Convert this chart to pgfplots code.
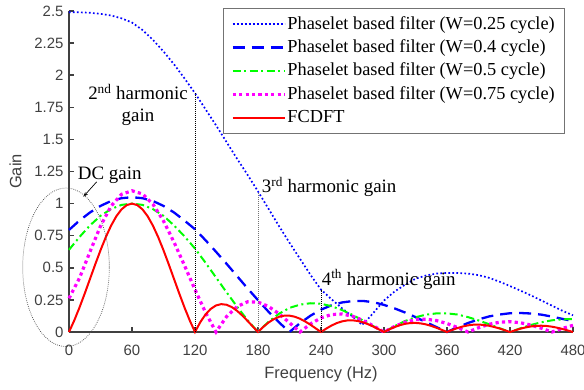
\documentclass[border=0pt]{standalone}
\usepackage{fontspec}
\setmainfont{Liberation Serif}
\newfontfamily\arialf{Liberation Sans}
\usepackage{pgfplots}
\pgfplotsset{compat=1.18}
\usetikzlibrary{arrows.meta}
\definecolor{axgray}{RGB}{64,64,64}
\definecolor{mblue}{RGB}{0,0,255}
\definecolor{mgreen}{RGB}{0,255,0}
\definecolor{mmag}{RGB}{255,0,255}
\definecolor{mred}{RGB}{255,0,0}
\begin{document}
\begin{tikzpicture}
\begin{axis}[
  scale only axis, width=504bp, height=321bp,
  xmin=0, xmax=480, ymin=0, ymax=2.5,
  axis x line*=bottom, axis y line*=left,
  axis line style={axgray, line width=1.5bp},
  xtick={0,60,120,180,240,300,360,420,480},
  xticklabels={0,60,120,180,240,300,360,420,480},
  ytick={0,0.25,0.5,0.75,1,1.25,1.5,1.75,2,2.25,2.5},
  yticklabels={0,0.25,0.5,0.75,1,1.25,1.5,1.75,2,2.25,2.5},
  tick align=inside, major tick length=5bp,
  every tick/.style={axgray, line width=1.5bp},
  tick label style={font=\arialf\fontsize{15}{15}\selectfont, text=axgray},
  xticklabel style={anchor=base, yshift=-23.7bp},
  yticklabel style={anchor=east, xshift=-2bp},
  xlabel={Frequency (Hz)}, ylabel={Gain},
  label style={font=\arialf\fontsize{16.5}{16.5}\selectfont, text=axgray},
  xlabel style={at={(axis description cs:0.5,-0.1443)}, anchor=base},
  ylabel style={at={(axis description cs:-0.106,0.5)}, anchor=center},
  clip=false,
  legend style={at={(axis description cs:0.3056,1.0093)}, anchor=north west,
    draw=black!55, fill=white, font=\fontsize{18.4}{18.4}\selectfont,
    inner xsep=8bp, inner ysep=6bp, row sep=3.1bp,
    nodes={inner sep=1bp, text height=14bp, text depth=4.2bp},
    cells={anchor=west}},
  legend image code/.code={\draw[#1] (0bp,0bp) -- (47bp,0bp); \path (0bp,0bp) -- (52bp,0bp);},
]
% W = 0.25 cycle
\addplot[mblue, line width=1.7bp, dash pattern=on 1.7bp off 2.3bp] coordinates {
(0,2.490) (10,2.490) (20,2.486) (30,2.478) (40,2.465) (50,2.443) (60,2.410) (70,2.352)
(80,2.275) (90,2.185) (100,2.085) (110,1.975) (120,1.860) (130,1.735) (140,1.610)
(150,1.480) (160,1.350) (170,1.225) (180,1.095) (190,0.960) (200,0.825) (210,0.695)
(220,0.570) (230,0.445) (240,0.330) (250,0.255) (260,0.185) (270,0.120) (275,0.088)
(279,0.055) (284,0.095) (290,0.150) (300,0.245) (310,0.315) (320,0.368) (330,0.415)
(340,0.440) (350,0.455) (360,0.460) (370,0.460) (380,0.455) (390,0.443) (400,0.422)
(410,0.392) (420,0.358) (430,0.322) (440,0.285) (450,0.245) (460,0.205) (470,0.165) (480,0.130)};
\addlegendentry{Phaselet based filter (W=0.25 cycle)}
% W = 0.4 cycle
\addplot[mblue, line width=2.3bp, dash pattern=on 12bp off 7bp] coordinates {
(0,0.795) (10,0.868) (20,0.931) (30,0.982) (40,1.020) (50,1.042) (60,1.050) (70,1.042)
(80,1.020) (90,0.982) (100,0.931) (110,0.868) (120,0.800) (130,0.715) (140,0.625)
(150,0.532) (160,0.436) (170,0.340) (180,0.248) (190,0.158) (200,0.075) (210,0)
(220,0.069) (230,0.127) (240,0.174) (250,0.208) (260,0.230) (270,0.241) (280,0.242)
(290,0.232) (300,0.211) (310,0.184) (320,0.152) (330,0.116) (340,0.077) (350,0.038)
(360,0) (370,0.037) (380,0.070) (390,0.098) (400,0.121) (410,0.136) (420,0.146)
(430,0.148) (440,0.144) (450,0.135) (460,0.120) (470,0.102) (480,0.085)};
\addlegendentry{Phaselet based filter (W=0.4 cycle)}
% W = 0.5 cycle
\addplot[mgreen, line width=2bp, dash pattern=on 8bp off 3.5bp on 2bp off 3.5bp] coordinates {
(0,0.640) (10,0.740) (20,0.830) (30,0.905) (40,0.957) (50,0.990) (60,1.0) (70,0.990)
(80,0.957) (90,0.905) (100,0.830) (110,0.745) (120,0.650) (130,0.540) (140,0.425)
(150,0.310) (160,0.198) (170,0.093) (180,0) (190,0.080) (200,0.142) (210,0.188)
(220,0.213) (230,0.224) (240,0.220) (250,0.201) (260,0.171) (270,0.133) (280,0.090)
(290,0.045) (300,0) (310,0.045) (320,0.085) (330,0.115) (340,0.135) (350,0.145)
(360,0.145) (370,0.136) (380,0.116) (390,0.090) (400,0.061) (410,0.030) (420,0)
(430,0.029) (440,0.055) (450,0.076) (460,0.091) (470,0.099) (480,0.100)};
\addlegendentry{Phaselet based filter (W=0.5 cycle)}
% W = 0.75 cycle
\addplot[mmag, line width=3.2bp, dash pattern=on 3.2bp off 3.2bp] coordinates {
(0,0.262) (10,0.420) (20,0.625) (30,0.825) (40,0.980) (50,1.072) (60,1.100) (70,1.075)
(80,0.995) (90,0.865) (100,0.700) (110,0.518) (120,0.330) (130,0.153) (140,0)
(150,0.119) (160,0.198) (170,0.235) (180,0.233) (190,0.199) (200,0.142) (210,0.072)
(220,0) (230,0.063) (240,0.110) (250,0.136) (260,0.140) (270,0.123) (280,0.090)
(290,0.047) (300,0) (310,0.043) (320,0.076) (330,0.096) (340,0.100) (350,0.089)
(360,0.066) (370,0.035) (380,0) (390,0.033) (400,0.060) (410,0.076) (420,0.080)
(430,0.072) (440,0.054) (450,0.029) (460,0) (470,0.028) (480,0.052)};
\addlegendentry{Phaselet based filter (W=0.75 cycle)}
% FCDFT
\addplot[mred, line width=2bp] coordinates {
(0,0) (5,0.0899) (10,0.1910) (15,0.3001) (20,0.4135) (25,0.5271) (30,0.6366) (35,0.7379)
(40,0.8270) (45,0.9003) (50,0.9549) (55,0.9886) (60,1) (65,0.9886) (70,0.9549) (75,0.9003)
(80,0.8270) (85,0.7379) (90,0.6366) (95,0.5271) (100,0.4135) (105,0.3001) (110,0.1910)
(115,0.0899) (120,0) (125,0.0760) (130,0.1364) (135,0.1801) (140,0.2067) (145,0.2170)
(150,0.2122) (155,0.1942) (160,0.1654) (165,0.1286) (170,0.0868) (175,0.0430) (180,0)
(185,0.0395) (190,0.0735) (195,0.1000) (200,0.1181) (205,0.1272) (210,0.1273) (215,0.1190)
(220,0.1034) (225,0.0818) (230,0.0562) (235,0.0282) (240,0) (245,0.0267) (250,0.0503)
(255,0.0693) (260,0.0827) (265,0.0900) (270,0.0910) (275,0.0858) (280,0.0752) (285,0.0600)
(290,0.0415) (295,0.0210) (300,0) (305,0.0202) (310,0.0382) (315,0.0530) (320,0.0636)
(325,0.0696) (330,0.0707) (335,0.0671) (340,0.0591) (345,0.0474) (350,0.0329) (355,0.0168)
(360,0) (365,0.0162) (370,0.0308) (375,0.0429) (380,0.0517) (385,0.0568) (390,0.0579)
(395,0.0551) (400,0.0486) (405,0.0391) (410,0.0273) (415,0.0139) (420,0) (425,0.0135)
(430,0.0258) (435,0.0360) (440,0.0435) (445,0.0479) (450,0.0490) (455,0.0467) (460,0.0414)
(465,0.0333) (470,0.0233) (475,0.0119) (480,0)};
\addlegendentry{FCDFT}
% harmonic markers
\addplot[black, line width=0.7bp, dash pattern=on 0.8bp off 1.2bp, forget plot] coordinates {(120,0) (120,1.86)};
\addplot[black!55, line width=0.9bp, dash pattern=on 0.8bp off 1.2bp, forget plot] coordinates {(180,0) (180,1.08)};
\addplot[black, line width=0.7bp, dash pattern=on 0.8bp off 1.2bp, forget plot] coordinates {(240,0) (240,0.33)};
% annotations
\node[anchor=base, inner sep=0pt, font=\fontsize{19}{19}\selectfont] at (axis cs:65.7,1.807) {2\textsuperscript{nd} harmonic};
\node[anchor=base, inner sep=0pt, font=\fontsize{19}{19}\selectfont] at (axis cs:65.7,1.636) {gain};
\node[anchor=base west, inner sep=0pt, font=\fontsize{19}{19}\selectfont] at (axis cs:183.5,1.083) {3\textsuperscript{rd} harmonic gain};
\node[anchor=base west, inner sep=0pt, font=\fontsize{19}{19}\selectfont] at (axis cs:240.6,0.366) {4\textsuperscript{th} harmonic gain};
\node[anchor=base west, inner sep=0pt, font=\fontsize{19}{19}\selectfont] at (axis cs:8.3,1.184) {DC gain};
\draw[black, line width=0.7bp, -{Stealth[length=5bp, width=3.5bp]}] (axis cs:26.4,1.17) -- (axis cs:13.6,1.053);
\draw[black!70, line width=0.7bp, dash pattern=on 0.8bp off 1.2bp] (axis cs:-2.86,0.504) ellipse [x radius=43.3bp, y radius=79.3bp];
\end{axis}
\pgfresetboundingbox
\path[use as bounding box] (-69bp,-58bp) rectangle (515bp,332bp);
\end{tikzpicture}
\end{document}
